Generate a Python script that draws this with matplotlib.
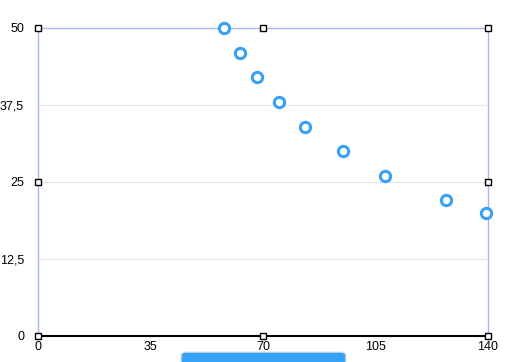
import matplotlib.pyplot as plt
from matplotlib.patches import FancyBboxPatch

plt.rcParams["font.family"] = ["Liberation Sans", "DejaVu Sans"]

x_vals = [58, 63, 68, 75, 83, 95, 108, 127, 139.5]
y_vals = [50, 46, 42, 38, 34, 30, 26, 22, 20]
x_ticks = [0, 35, 70, 105, 140]
y_ticks = [0, 12.5, 25, 37.5, 50]
y_labels = ["0", "12,5", "25", "37,5", "50"]

W, H = 526, 362
fig = plt.figure(figsize=(W / 100, H / 100), dpi=100)
ax = fig.add_axes([38 / W, 26 / H, 450 / W, 308 / H])

ax.set_xlim(0, 140)
ax.set_ylim(0, 50)
for y in [12.5, 25, 37.5]:
    ax.axhline(y, color="#e6e6e6", lw=0.8, zorder=0)

ax.scatter(x_vals, y_vals, s=55, facecolor="white", edgecolor="#3aa0f5",
           linewidth=2.2, zorder=5, clip_on=False)

for side in ["left", "right", "top"]:
    ax.spines[side].set_color("#a5b4f5")
    ax.spines[side].set_linewidth(1)
ax.spines["bottom"].set_color("black")
ax.spines["bottom"].set_linewidth(1.5)

ax.set_xticks(x_ticks)
ax.set_yticks(y_ticks)
ax.set_yticklabels(y_labels)
ax.tick_params(length=0, labelsize=9)
ax.tick_params(axis="x", pad=3.5)
ax.tick_params(axis="y", pad=10)

# selection handles
for hx in [0, 70, 140]:
    for hy in [0, 25, 50]:
        if hx == 70 and hy == 25:
            continue
        ax.plot(hx, hy, marker="s", ms=5, mfc="white", mec="black",
                mew=1, clip_on=False, zorder=6)

# blue button at the bottom, mostly off the canvas
btn = FancyBboxPatch((181 / W, -20 / H), 165 / W, 30 / H,
                     boxstyle="round,pad=0,rounding_size=0.01",
                     transform=fig.transFigure, facecolor="#36a2f7",
                     edgecolor="#dfe6ee", linewidth=1)
fig.patches.append(btn)

fig.savefig("out.png", dpi=100)
